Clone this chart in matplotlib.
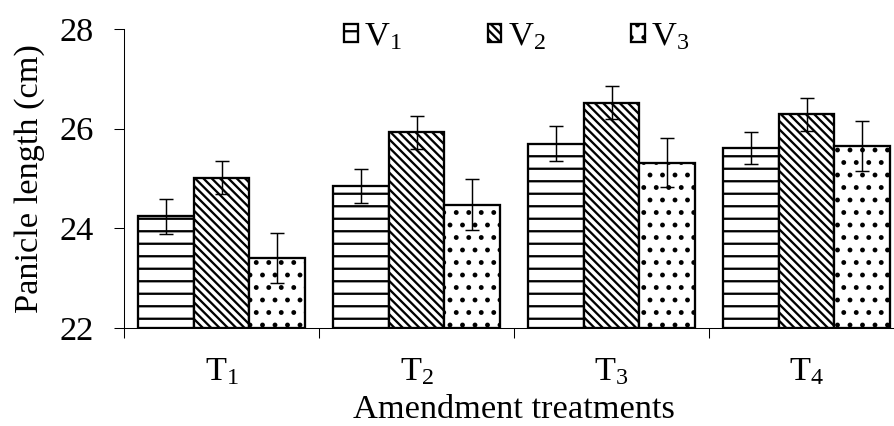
import matplotlib
matplotlib.use("Agg")
import matplotlib.pyplot as plt
import numpy as np

# Données
treatments = ['T$_1$', 'T$_2$', 'T$_3$', 'T$_4$']
varieties = ['V$_1$', 'V$_2$', 'V$_3$']

V1 = [24.24, 24.85, 25.70, 25.62]
V2 = [25.02, 25.93, 26.52, 26.29]
V3 = [23.40, 24.47, 25.32, 25.65]

V1_err = [0.35, 0.35, 0.35, 0.32]
V2_err = [0.33, 0.33, 0.33, 0.33]
V3_err = [0.50, 0.51, 0.50, 0.50]

y_min, y_max = 22, 28

plt.rcParams['font.family'] = ['Liberation Serif', 'DejaVu Serif']
plt.rcParams['mathtext.default'] = 'regular'
plt.rcParams['hatch.linewidth'] = 2.2
plt.rcParams['hatch.color'] = 'black'

DPI = 75
FS = 33
fig = plt.figure(figsize=(894 / DPI, 426 / DPI), dpi=DPI)
ax = fig.add_axes([124 / 894, 98 / 426, 780 / 894, 299 / 426])

x = np.arange(len(treatments))
w = 0.287
series = [V1, V2, V3]
errors = [V1_err, V2_err, V3_err]
hatches = ['-', '\\\\\\', '.']

for k, (vals, errs, h, lab) in enumerate(zip(series, errors, hatches, varieties)):
    pos = x + (k - 1) * w
    vals = np.array(vals)
    ax.bar(pos, vals - y_min, bottom=y_min, width=w, color='white',
           edgecolor='black', linewidth=2.2, hatch=h, label=lab, zorder=2)
    ax.errorbar(pos, vals, yerr=errs, fmt='none', ecolor='black',
                elinewidth=1.4, capsize=6.5, capthick=1.4, zorder=3)

ax.set_xlim(-0.5, len(treatments) - 0.5)
ax.set_ylim(y_min, y_max)
ax.set_yticks([22, 24, 26, 28])

# ticks aux limites des groupes, étiquettes au centre
ax.set_xticks(np.arange(-0.5, len(treatments), 1.0))
ax.set_xticklabels([])
ax.set_xticks(x, minor=True)
ax.set_xticklabels(treatments, minor=True)
ax.tick_params(axis='x', which='major', direction='out', length=9.6, width=1)
ax.tick_params(axis='x', which='minor', length=0, pad=27, labelsize=FS)
ax.tick_params(axis='y', direction='out', length=9.6, width=1, pad=19, labelsize=FS)

for side in ['top', 'right']:
    ax.spines[side].set_visible(False)
for side in ['left', 'bottom']:
    ax.spines[side].set_linewidth(1)

ax.set_ylabel('Panicle length (cm)', fontsize=FS, labelpad=14)
ax.set_xlabel('Amendment treatments', fontsize=FS, labelpad=7)

fig.legend(loc='center', bbox_to_anchor=(0.578, 0.913), ncol=3, frameon=False,
           fontsize=FS, handlelength=0.4, handleheight=0.4, handletextpad=0.18,
           columnspacing=2.5, borderpad=0, borderaxespad=0)

fig.savefig('out.png', dpi=DPI)
